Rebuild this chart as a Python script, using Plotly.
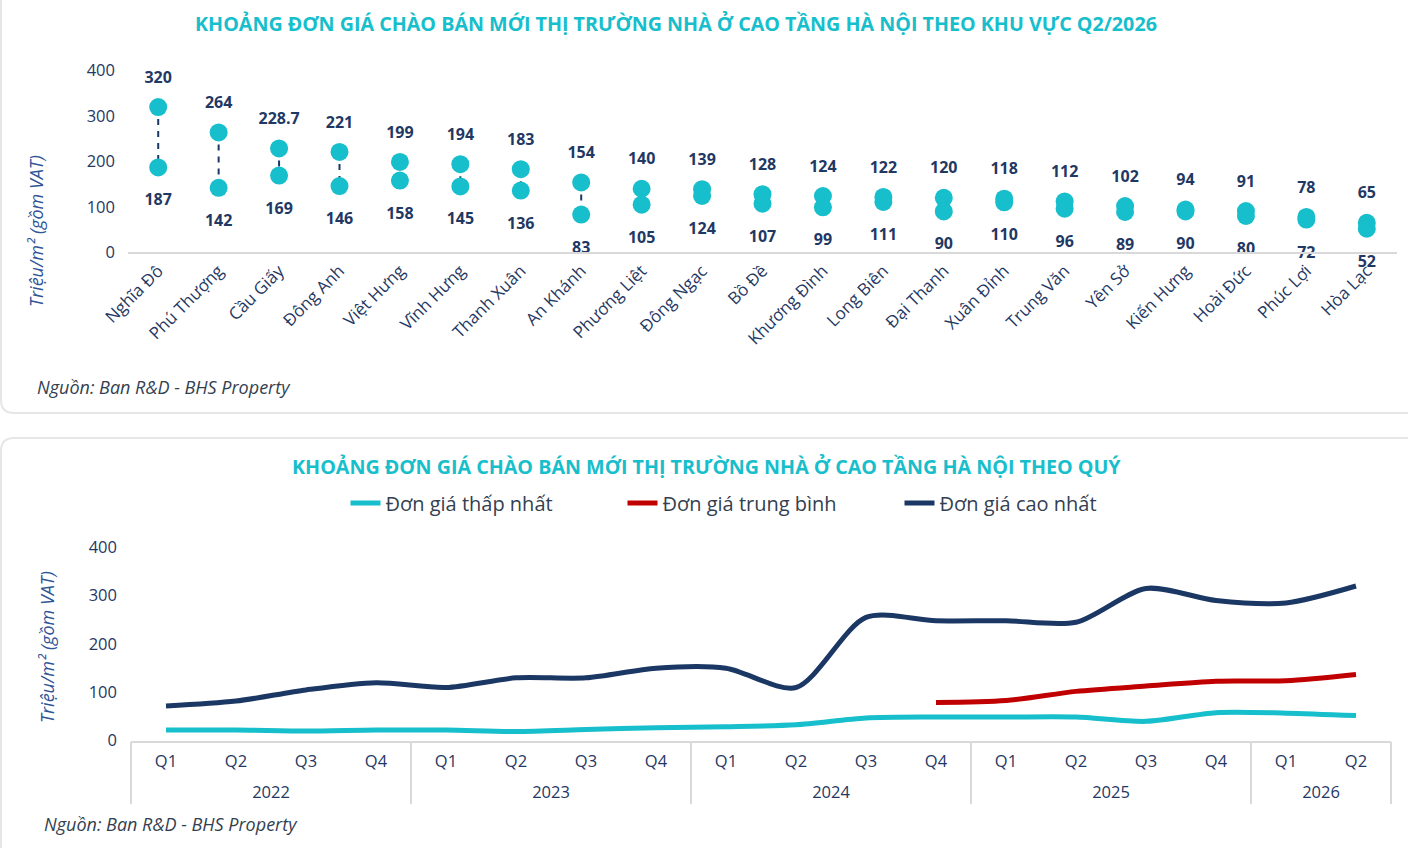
import plotly.graph_objects as go

W, H = 1408, 848

# ---------------- data: top chart (by district, Q2/2026) ----------------
districts = ["Nghĩa Đô", "Phú Thượng", "Cầu Giấy", "Đông Anh", "Việt Hưng", "Vĩnh Hưng",
             "Thanh Xuân", "An Khánh", "Phương Liệt", "Đông Ngạc", "Bồ Đề", "Khương Đình",
             "Long Biên", "Đại Thanh", "Xuân Đỉnh", "Trung Văn", "Yên Sở", "Kiến Hưng",
             "Hoài Đức", "Phúc Lợi", "Hòa Lạc"]
max_price = [320, 264, 228.7, 221, 199, 194, 183, 154, 140, 139, 128, 124, 122, 120, 118,
             112, 102, 94, 91, 78, 65]
min_price = [187, 142, 169, 146, 158, 145, 136, 83, 105, 124, 107, 99, 111, 90, 110,
             96, 89, 90, 80, 72, 52]

# ---------------- data: bottom chart (by quarter) ----------------
quarters = ["Q1", "Q2", "Q3", "Q4", "Q1", "Q2", "Q3", "Q4", "Q1", "Q2", "Q3", "Q4",
            "Q1", "Q2", "Q3", "Q4", "Q1", "Q2"]
years = ["2022"] * 4 + ["2023"] * 4 + ["2024"] * 4 + ["2025"] * 4 + ["2026"] * 2
low_price = [22, 22, 20, 22, 22, 19, 23, 27, 29, 33, 47, 49, 49, 49, 40, 58, 57, 52]
avg_quarters = ["Q4", "Q1", "Q2", "Q3", "Q4", "Q1", "Q2"]
avg_years = ["2024", "2025", "2025", "2025", "2025", "2026", "2026"]
avg_price = [79, 83, 102, 113, 123, 124, 137]
high_price = [72, 82, 105, 120, 110, 130, 130, 150, 150, 110, 255, 248, 248, 245, 315, 290, 285, 320]

y_ticks = [0, 100, 200, 300, 400]

TEAL = "#17BECB"
NAVY = "#1B3764"
RED = "#C00000"
TEXT = "#1F3864"
FONT = "Open Sans, sans-serif"


def px_x(p):
    return p / W


def px_y(p):
    return 1 - p / H


fig = go.Figure()

# ---- top chart: dashed connectors ----
cx, cy = [], []
for d, hi, lo in zip(districts, max_price, min_price):
    cx += [d, d, None]
    cy += [hi, lo, None]
fig.add_trace(go.Scatter(x=cx, y=cy, mode="lines", line=dict(color=NAVY, width=2, dash="6px,6px"),
                         showlegend=False, hoverinfo="skip", xaxis="x", yaxis="y"))
fig.add_trace(go.Scatter(x=districts, y=max_price, mode="markers", marker=dict(size=18, color=TEAL),
                         showlegend=False, xaxis="x", yaxis="y", name="Cao nhất"))
fig.add_trace(go.Scatter(x=districts, y=min_price, mode="markers", marker=dict(size=18, color=TEAL),
                         showlegend=False, xaxis="x", yaxis="y", name="Thấp nhất"))
fig.add_trace(go.Scatter(x=districts, y=max_price, mode="markers+text",
                         text=[f"{v:g}" for v in max_price], textposition="top center",
                         textfont=dict(family=FONT, size=16, color=TEXT, weight="bold"),
                         marker=dict(size=31, color="rgba(0,0,0,0)"), cliponaxis=False,
                         showlegend=False, hoverinfo="skip", xaxis="x", yaxis="y"))
fig.add_trace(go.Scatter(x=districts, y=min_price, mode="markers+text",
                         text=[f"{v:g}" for v in min_price], textposition="bottom center",
                         textfont=dict(family=FONT, size=16, color=TEXT, weight="bold"),
                         marker=dict(size=40, color="rgba(0,0,0,0)"), cliponaxis=False,
                         showlegend=False, hoverinfo="skip", xaxis="x", yaxis="y"))

# ---- bottom chart ----
fig.add_trace(go.Scatter(x=[years, quarters], y=low_price, mode="lines", name="Đơn giá thấp nhất",
                         line=dict(color=TEAL, width=5, shape="spline", smoothing=0.8),
                         xaxis="x2", yaxis="y2"))
fig.add_trace(go.Scatter(x=[avg_years, avg_quarters], y=avg_price, mode="lines", name="Đơn giá trung bình",
                         line=dict(color=RED, width=5, shape="spline", smoothing=0.8),
                         xaxis="x2", yaxis="y2"))
fig.add_trace(go.Scatter(x=[years, quarters], y=high_price, mode="lines", name="Đơn giá cao nhất",
                         line=dict(color=NAVY, width=5, shape="spline", smoothing=0.8),
                         xaxis="x2", yaxis="y2"))
# empty traces so the label axes are drawn
fig.add_trace(go.Scatter(x=[], y=[], xaxis="x3", yaxis="y2", showlegend=False, hoverinfo="skip"))
fig.add_trace(go.Scatter(x=[], y=[], xaxis="x4", yaxis="y2", showlegend=False, hoverinfo="skip"))

# year group centres and boundaries derived from the quarter list
year_names = []
for yv in years:
    if yv not in year_names:
        year_names.append(yv)
year_centers = []
year_bounds = [-0.5]
for yn in year_names:
    idx = [i for i, yv in enumerate(years) if yv == yn]
    year_centers.append(sum(idx) / len(idx))
    year_bounds.append(idx[-1] + 0.5)

tickfont = dict(family=FONT, size=16.5, color=TEXT)

shapes = [
    dict(type="path", xref="paper", yref="paper",
         path=f"M {px_x(1)} {px_y(-20)} L {px_x(1)} {px_y(400)} Q {px_x(1)} {px_y(413)} {px_x(14)} {px_y(413)} "
              f"L {px_x(1420)} {px_y(413)}",
         line=dict(color="#E6E6E6", width=2), layer="below"),
    dict(type="path", xref="paper", yref="paper",
         path=f"M {px_x(1)} {px_y(870)} L {px_x(1)} {px_y(451)} Q {px_x(1)} {px_y(438)} {px_x(14)} {px_y(438)} "
              f"L {px_x(1420)} {px_y(438)}",
         line=dict(color="#E6E6E6", width=2), layer="below"),
]

annotations = [
    dict(text="<b>KHOẢNG ĐƠN GIÁ CHÀO BÁN MỚI THỊ TRƯỜNG NHÀ Ở CAO TẦNG HÀ NỘI THEO KHU VỰC Q2/2026</b>",
         xref="paper", yref="paper", x=px_x(676), y=px_y(23), xanchor="center", yanchor="middle",
         showarrow=False, font=dict(family=FONT, size=19.7, color=TEAL)),
    dict(text="<b>KHOẢNG ĐƠN GIÁ CHÀO BÁN MỚI THỊ TRƯỜNG NHÀ Ở CAO TẦNG HÀ NỘI THEO QUÝ</b>",
         xref="paper", yref="paper", x=px_x(707), y=px_y(466), xanchor="center", yanchor="middle",
         showarrow=False, font=dict(family=FONT, size=19.7, color=TEAL)),
    dict(text="<i>Triệu/m² (gồm VAT)</i>", xref="paper", yref="paper", x=px_x(36), y=px_y(231),
         xanchor="center", yanchor="middle", textangle=-90, showarrow=False,
         font=dict(family=FONT, size=18, color="#2F5597")),
    dict(text="<i>Triệu/m² (gồm VAT)</i>", xref="paper", yref="paper", x=px_x(47), y=px_y(647),
         xanchor="center", yanchor="middle", textangle=-90, showarrow=False,
         font=dict(family=FONT, size=18, color="#2F5597")),
    dict(text="<i>Nguồn: Ban R&D - BHS Property</i>", xref="paper", yref="paper", x=px_x(35), y=px_y(387),
         xanchor="left", yanchor="middle", showarrow=False, font=dict(family=FONT, size=18, color="#333F50")),
    dict(text="<i>Nguồn: Ban R&D - BHS Property</i>", xref="paper", yref="paper", x=px_x(42), y=px_y(824),
         xanchor="left", yanchor="middle", showarrow=False, font=dict(family=FONT, size=18, color="#333F50")),
]

bx_dom = [px_x(131), px_x(1391)]
nq = len(quarters)

fig.update_layout(
    width=W, height=H, margin=dict(l=0, r=0, t=0, b=0, autoexpand=False),
    paper_bgcolor="white", plot_bgcolor="rgba(0,0,0,0)",
    font=dict(family=FONT, color=TEXT),
    shapes=shapes, annotations=annotations,
    showlegend=True,
    legend=dict(orientation="h", x=px_x(761), y=px_y(503), xanchor="center", yanchor="middle",
                font=dict(family=FONT, size=20, color="#333F50"), entrywidth=232, entrywidthmode="pixels",
                bgcolor="rgba(0,0,0,0)"),
    xaxis=dict(domain=[px_x(128), px_x(1397)], anchor="y", type="category", automargin=False,
               range=[-0.5, len(districts) - 0.5], showline=True, linecolor="#D9D9D9", linewidth=2,
               showgrid=False, zeroline=False, tickangle=-45, tickfont=dict(family=FONT, size=17, color=TEXT),
               ticks=""),
    yaxis=dict(domain=[px_y(252.3), px_y(70.7)], anchor="x", range=[0, 400], tickvals=y_ticks,
               automargin=False,
               showgrid=False, zeroline=False, showline=False, tickfont=tickfont, ticklabelstandoff=12),
    xaxis2=dict(domain=bx_dom, anchor="y2", type="multicategory", automargin=False,
                range=[-0.5, nq - 0.5], showline=True, linecolor="#D9D9D9", linewidth=2,
                showgrid=False, zeroline=False, showticklabels=False, showdividers=False, ticks=""),
    xaxis3=dict(domain=bx_dom, anchor="y2", overlaying="x2", side="bottom", automargin=False,
                range=[-0.5, nq - 0.5], tickvals=list(range(nq)), ticktext=quarters,
                showline=False, showgrid=False, zeroline=False, ticks="", tickfont=tickfont,
                ticklabelstandoff=9),
    xaxis4=dict(domain=bx_dom, anchor="y2", overlaying="x2", side="bottom", automargin=False,
                range=[-0.5, nq - 0.5], tickvals=year_centers, ticktext=year_names,
                showline=False, showgrid=False, zeroline=False, ticks="", tickfont=tickfont,
                ticklabelstandoff=40,
                minor=dict(tickvals=year_bounds, ticks="outside", ticklen=62, tickwidth=2,
                           tickcolor="#D9D9D9", showgrid=False)),
    yaxis2=dict(domain=[px_y(740.7), px_y(547.3)], anchor="x2", range=[0, 400], tickvals=y_ticks,
                automargin=False,
                showgrid=False, zeroline=False, showline=False, tickfont=tickfont, ticklabelstandoff=13),
)

fig.write_html("out.html")
